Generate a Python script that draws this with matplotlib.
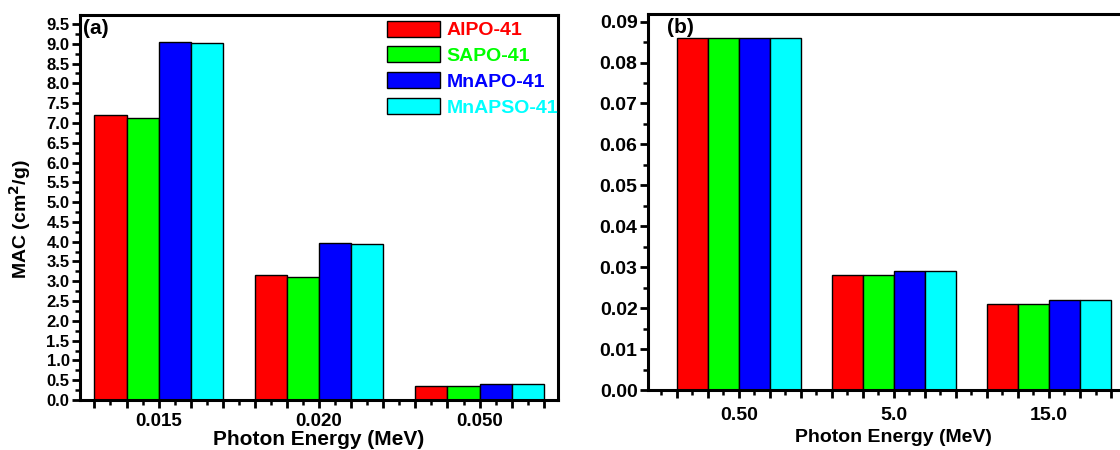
import numpy as np
import matplotlib
matplotlib.use("Agg")
import matplotlib.pyplot as plt
from matplotlib.ticker import MultipleLocator, FuncFormatter

# data
samples = ["AlPO-41", "SAPO-41", "MnAPO-41", "MnAPSO-41"]
colors = ["#ff0000", "#00ff00", "#0000ff", "#00ffff"]

energies_a = ["0.015", "0.020", "0.050"]
mac_a = [
    [7.20, 3.15, 0.35],   # AlPO-41
    [7.13, 3.12, 0.35],   # SAPO-41
    [9.05, 3.97, 0.41],   # MnAPO-41
    [9.02, 3.95, 0.41],   # MnAPSO-41
]

energies_b = ["0.50", "5.0", "15.0"]
mac_b = [
    [0.086, 0.028, 0.021],
    [0.086, 0.028, 0.021],
    [0.086, 0.029, 0.022],
    [0.086, 0.029, 0.022],
]

plt.rcParams['font.family'] = ['Liberation Sans', 'DejaVu Sans']
plt.rcParams['font.weight'] = 'bold'
plt.rcParams['axes.labelweight'] = 'bold'


def bar_panel(ax, labels, values, xsize, ysize, xpad=3, width=0.2):
    x = np.arange(len(labels))
    for i, (name, vals) in enumerate(zip(samples, values)):
        ax.bar(x + (i - 1.5) * width, vals, width, color=colors[i],
               edgecolor='black', linewidth=1.0, label=name, zorder=2)
    ax.xaxis.set_major_locator(MultipleLocator(0.2))
    ax.xaxis.set_minor_locator(MultipleLocator(0.1))

    def fmt(v, pos):
        k = int(round(v))
        if abs(v - k) < 1e-6 and 0 <= k < len(labels):
            return labels[k]
        return ""
    ax.xaxis.set_major_formatter(FuncFormatter(fmt))
    ax.tick_params(axis='both', which='major', direction='out', length=6,
                   width=2, top=False, right=False)
    ax.tick_params(axis='both', which='minor', direction='out', length=3.5,
                   width=1.8, top=False, right=False)
    ax.tick_params(axis='x', which='major', labelsize=xsize, pad=xpad)
    ax.tick_params(axis='y', which='major', labelsize=ysize, pad=1.5)
    for s in ax.spines.values():
        s.set_linewidth(2.2)


fig = plt.figure(figsize=(11.2, 4.5), dpi=100)
ax1 = fig.add_axes([0.0714, 0.111, 0.427, 0.856])
ax2 = fig.add_axes([0.5786, 0.1333, 0.439, 0.836])

# panel (a)
bar_panel(ax1, energies_a, mac_a, 13.5, 12)
ax1.set_xlim(-0.49, 2.49)
ax1.set_ylim(0, 9.73)
ax1.yaxis.set_major_locator(MultipleLocator(0.5))
ax1.yaxis.set_minor_locator(MultipleLocator(0.25))
ax1.yaxis.set_major_formatter(FuncFormatter(lambda v, p: f"{v:.1f}"))
ax1.set_xlabel("Photon Energy (MeV)", fontsize=15, labelpad=0)
ax1.set_ylabel("MAC (cm$^\\mathbf{2}$/g)", fontsize=14)
ax1.yaxis.set_label_coords(-0.098, 0.47)
ax1.text(0.006, 0.99, "(a)", transform=ax1.transAxes, fontsize=15,
         fontweight='bold', va='top', ha='left')
leg = ax1.legend(loc='upper right', bbox_to_anchor=(1.0, 0.985), frameon=False,
                 fontsize=14, handlelength=2.68, handleheight=0.88,
                 handletextpad=0.36, labelspacing=0.37, borderaxespad=0,
                 borderpad=0)
for txt, c in zip(leg.get_texts(), colors):
    txt.set_color(c)

# panel (b)
bar_panel(ax2, energies_b, mac_b, 14, 14, xpad=6)
ax2.set_xlim(-0.585, 2.585)
ax2.set_ylim(0, 0.0919)
ax2.yaxis.set_major_locator(MultipleLocator(0.01))
ax2.yaxis.set_minor_locator(MultipleLocator(0.005))
ax2.yaxis.set_major_formatter(FuncFormatter(lambda v, p: f"{v:.2f}"))
ax2.set_xlabel("Photon Energy (MeV)", fontsize=14, labelpad=4)
ax2.text(0.038, 0.99, "(b)", transform=ax2.transAxes, fontsize=15,
         fontweight='bold', va='top', ha='left')

fig.savefig("out.png", dpi=100)
